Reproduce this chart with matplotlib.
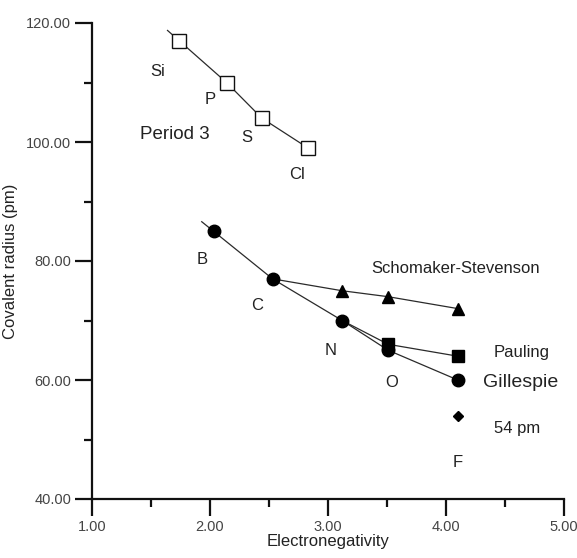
import numpy as np
import matplotlib
matplotlib.use("Agg")
import matplotlib.pyplot as plt
from matplotlib.ticker import MultipleLocator, FormatStrFormatter

plt.rcParams['font.family'] = ['Liberation Sans', 'DejaVu Sans']

# ---- data ----
period3_elements = ["Si", "P", "S", "Cl"]
period3_en = [1.74, 2.14, 2.44, 2.83]
period3_radius = [117, 110, 104, 99]

period2_elements = ["B", "C", "N", "O", "F"]
period2_en = [2.03, 2.53, 3.12, 3.51, 4.10]
gillespie_radius = [85, 77, 70, 65, 60]

schomaker_en = [2.53, 3.12, 3.51, 4.10]
schomaker_radius = [77, 75, 74, 72]

pauling_en = [3.12, 3.51, 4.10]
pauling_radius = [70, 66, 64]

f_54_en = [4.10]
f_54_radius = [54]

xticks = [1.0, 2.0, 3.0, 4.0, 5.0]
yticks = [40, 60, 80, 100, 120]

fig = plt.figure(figsize=(5.77, 5.58), dpi=100)
ax = fig.add_axes([92/577, 1-499/558, (564-92)/577, (499-23)/558])
ax.set_xlim(1.0, 5.0)
ax.set_ylim(40, 120)

line_kw = dict(color='#2a2a2a', lw=0.9)
ext = 0.1

def with_ext(xs, ys):
    xs = np.asarray(xs, float); ys = np.asarray(ys, float)
    slope = (ys[1]-ys[0])/(xs[1]-xs[0])
    return np.r_[xs[0]-ext, xs], np.r_[ys[0]-slope*ext, ys]

# Period 3
x3, y3 = with_ext(period3_en, period3_radius)
ax.plot(x3, y3, **line_kw, zorder=2)
ax.plot(period3_en, period3_radius, ls='none', marker='s', ms=10.5,
        mfc='white', mec='#111111', mew=1.0, zorder=3)

# Period 2 (Gillespie)
x2, y2 = with_ext(period2_en, gillespie_radius)
ax.plot(x2, y2, **line_kw, zorder=2)
# Schomaker-Stevenson
ax.plot(schomaker_en, schomaker_radius, **line_kw, zorder=2)
ax.plot(schomaker_en[1:], schomaker_radius[1:], ls='none', marker='^', ms=8,
        color='black', zorder=3)
# Pauling
ax.plot(pauling_en, pauling_radius, **line_kw, zorder=2)
ax.plot(pauling_en[1:], pauling_radius[1:], ls='none', marker='s', ms=8.5,
        color='black', zorder=3)
# Gillespie markers
ax.plot(period2_en, gillespie_radius, ls='none', marker='o', ms=9,
        color='black', zorder=4)
# 54 pm
ax.plot(f_54_en, f_54_radius, ls='none', marker='D', ms=5.5, color='black', zorder=3)

# labels
tk = dict(ha='center', va='center', fontsize=12, color='#222222')
p3_label_pos = [(1.56, 111.8), (2.00, 107.1), (2.31, 100.7), (2.74, 94.6)]
for el, (tx, ty) in zip(period3_elements, p3_label_pos):
    ax.text(tx, ty, el, **tk)
ax.text(1.70, 101.2, "Period 3", ha='center', va='center', fontsize=13.5, color='#222222')

p2_label_pos = [(1.93, 80.2), (2.40, 72.6), (3.02, 64.9), (3.54, 59.5), (4.10, 46.2)]
for el, (tx, ty) in zip(period2_elements, p2_label_pos):
    ax.text(tx, ty, el, **tk)

ax.text(4.08, 78.7, "Schomaker-Stevenson", ha='center', va='center', fontsize=12, color='#222222')
ax.text(4.64, 64.7, "Pauling", ha='center', va='center', fontsize=12, color='#222222')
ax.text(4.63, 59.5, "Gillespie", ha='center', va='center', fontsize=14, color='#222222')
ax.text(4.60, 51.8, "54 pm", ha='center', va='center', fontsize=12, color='#222222')

# axes styling
for s in ['top', 'right']:
    ax.spines[s].set_visible(False)
for s in ['left', 'bottom']:
    ax.spines[s].set_linewidth(1.6)
    ax.spines[s].set_color('#111111')

ax.set_xticks(xticks)
ax.set_yticks(yticks)
ax.xaxis.set_major_formatter(FormatStrFormatter('%.2f'))
ax.yaxis.set_major_formatter(FormatStrFormatter('%.2f'))
ax.xaxis.set_minor_locator(MultipleLocator(0.5))
ax.yaxis.set_minor_locator(MultipleLocator(10))
ax.tick_params(which='major', direction='out', length=12, width=1.6, color='#111111',
               labelsize=10.5, labelcolor='#444444', pad=3)
ax.tick_params(which='minor', direction='out', length=6, width=1.6, color='#111111')

ax.set_xlabel("Electronegativity", fontsize=12, color='#222222', labelpad=0)
ax.set_ylabel("Covalent radius (pm)", fontsize=12, color='#222222', labelpad=6)

fig.savefig("out.png", dpi=100)
